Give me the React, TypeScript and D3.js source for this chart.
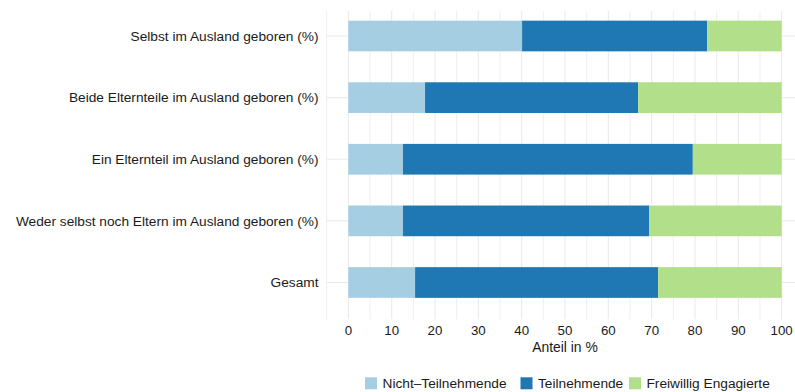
import React from "react";
import * as d3 from "d3";

const categories = [
  "Selbst im Ausland geboren (%)",
  "Beide Elternteile im Ausland geboren (%)",
  "Ein Elternteil im Ausland geboren (%)",
  "Weder selbst noch Eltern im Ausland geboren (%)",
  "Gesamt",
];
const seriesNames = ["Nicht\u2013Teilnehmende", "Teilnehmende", "Freiwillig Engagierte"];
const nichtTeilnehmende = [40.1, 17.7, 12.6, 12.6, 15.4];
const teilnehmende = [42.7, 49.2, 66.9, 56.8, 56.1];
const freiwillig = [17.2, 33.1, 20.5, 30.6, 28.5];
const colors = ["#A6CEE3", "#1F78B4", "#B2DF8A"];
const xTicks = [0, 10, 20, 30, 40, 50, 60, 70, 80, 90, 100];
const xGrid = d3.range(-5, 106, 5);

const W = 795;
const H = 392;
const FONT = "'Liberation Sans', Arial, Helvetica, sans-serif";

export default function App() {
  const x = d3.scaleLinear().domain([-5, 105]).range([326.7, 803.3]);
  const y = d3.scalePoint<string>().domain(categories).range([36, 282.5]);
  const panelTop = 11;
  const panelBottom = 319.3;
  const barH = 30.7;

  const rows = categories.map((c, i) => ({
    cat: c,
    vals: [nichtTeilnehmende[i], teilnehmende[i], freiwillig[i]],
  }));
  const stack = d3
    .stack<any>()
    .keys(["0", "1", "2"])
    .value((d: any, k: string) => d.vals[+k]);
  const stacked = stack(rows as any);

  const legendX = [365, 520.5, 629];

  return (
    <div style={{ position: "absolute", left: 0, top: 0 }}>
      <svg width={W} height={H} style={{ display: "block", fontFamily: FONT }}>
        <rect x={0} y={0} width={W} height={H} fill="#fff" />
        <g>
          {xGrid.map((v) => (
            <line
              key={"gx" + v}
              x1={x(v)}
              x2={x(v)}
              y1={panelTop}
              y2={panelBottom}
              stroke="#ebebeb"
              strokeWidth={v % 10 === 0 ? 1.1 : 0.8}
            />
          ))}
          {categories.map((c) => (
            <line
              key={"gy" + c}
              x1={x(-5)}
              x2={x(105)}
              y1={y(c)}
              y2={y(c)}
              stroke="#ebebeb"
              strokeWidth={1.1}
            />
          ))}
        </g>
        <g>
          {stacked.map((s, si) =>
            s.map((d, i) => (
              <rect
                key={si + "-" + i}
                x={x(d[0])}
                width={x(d[1]) - x(d[0])}
                y={(y(categories[i]) as number) - barH / 2}
                height={barH}
                fill={colors[si]}
              />
            ))
          )}
        </g>
        <g fill="#1a1a1a">
          {categories.map((c) => (
            <text key={"yl" + c} x={318.5} y={(y(c) as number) + 4.8} textAnchor="end" fontSize={13.7}>
              {c}
            </text>
          ))}
          {xTicks.map((t) => (
            <text key={"xt" + t} x={x(t)} y={335.3} textAnchor="middle" fontSize={13.3}>
              {t}
            </text>
          ))}
        </g>
        <text x={x(50)} y={351.5} textAnchor="middle" fontSize={13.9} fill="#1a1a1a">
          Anteil in %
        </text>
        <g>
          {seriesNames.map((n, i) => (
            <g key={"lg" + n}>
              <rect x={legendX[i]} y={377.3} width={12} height={12} fill={colors[i]} />
              <text x={legendX[i] + 17.5} y={388} fontSize={13.7} fill="#1a1a1a">
                {n}
              </text>
            </g>
          ))}
        </g>
      </svg>
    </div>
  );
}
